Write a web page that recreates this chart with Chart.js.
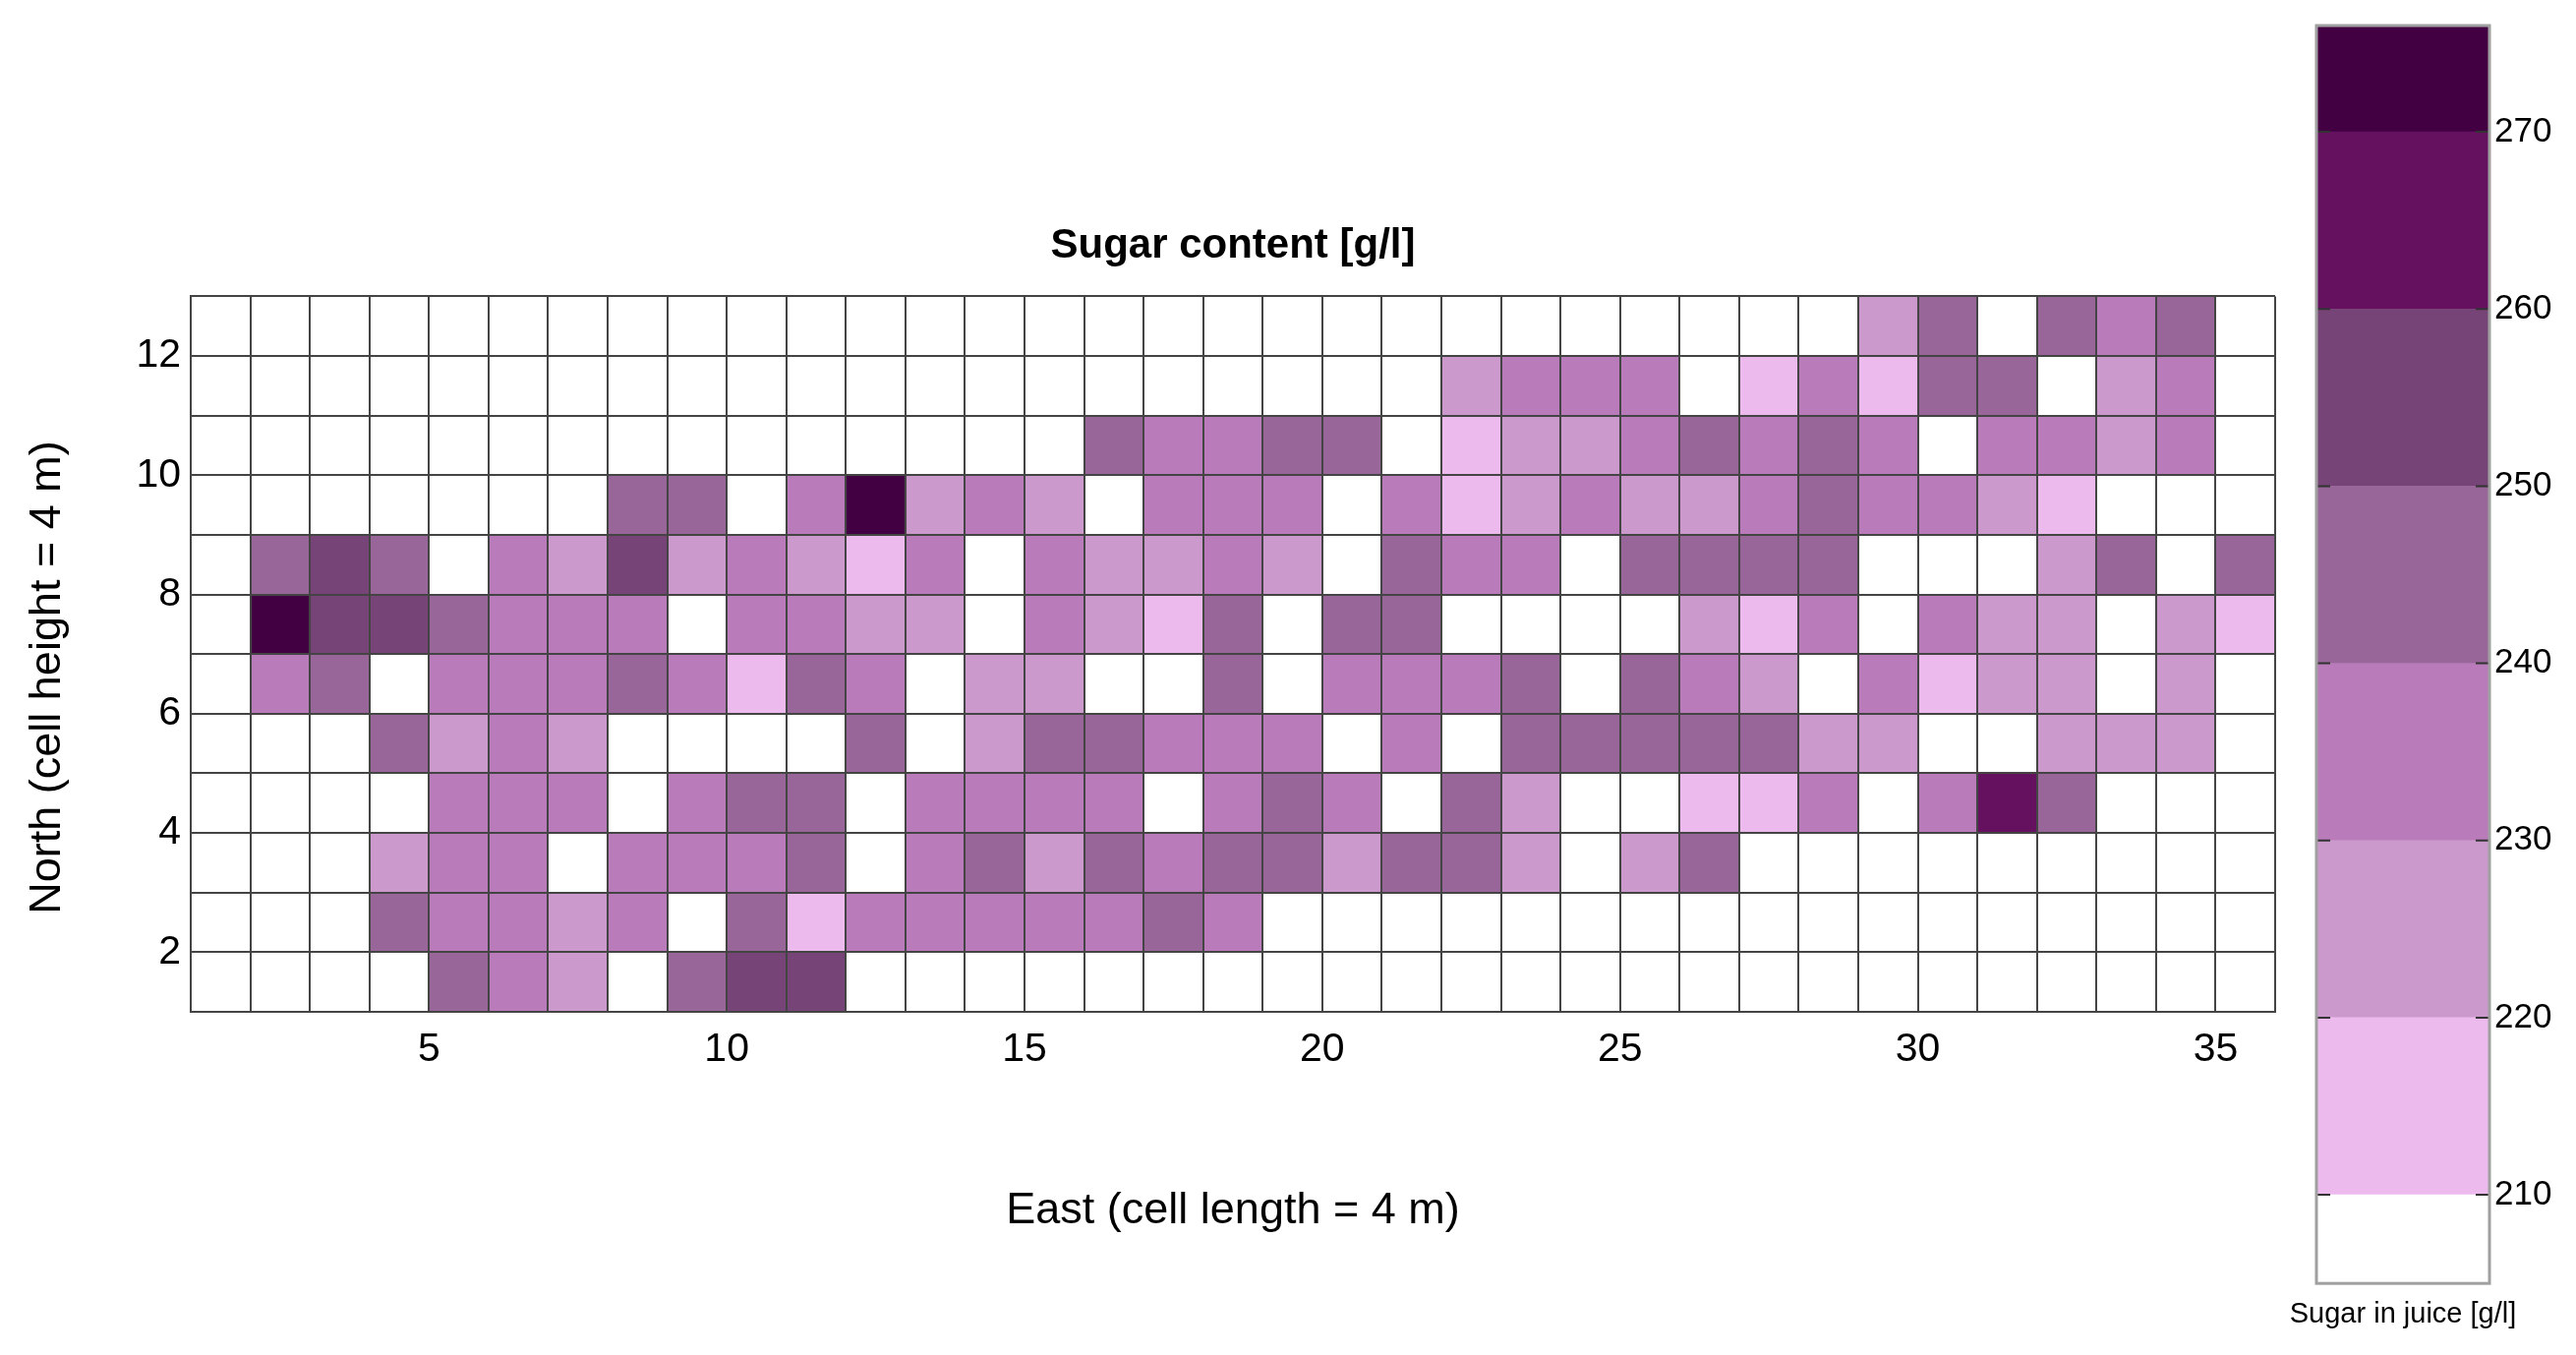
<!DOCTYPE html>
<html>
<head>
<meta charset="utf-8">
<script src="https://cdn.jsdelivr.net/npm/chart.js@4.4.1/dist/chart.umd.min.js"></script>
<style>
  body { margin: 0; background: #fff; }
  #map { position: absolute; left: 0; top: 0; }
  #bar { position: absolute; left: 2286px; top: 0; }
</style>
</head>
<body>
<canvas id="map" width="2620" height="1378"></canvas>
<canvas id="bar" width="316" height="1378"></canvas>
<script>
const _ = null;
// sugar in juice [g/l], one array per row (north), columns 1..35 (east)
const row12 = [_,_,_,_,_,_,_,_,_,_,_,_,_,_,_,_,_,_,_,_,_,_,_,_,_,_,_,_,225,245,_,245,235,245,_];
const row11 = [_,_,_,_,_,_,_,_,_,_,_,_,_,_,_,_,_,_,_,_,_,225,235,235,235,_,215,235,215,245,245,_,225,235,_];
const row10 = [_,_,_,_,_,_,_,_,_,_,_,_,_,_,_,245,235,235,245,245,_,215,225,225,235,245,235,245,235,_,235,235,225,235,_];
const row9  = [_,_,_,_,_,_,_,245,245,_,235,273,225,235,225,_,235,235,235,_,235,215,225,235,225,225,235,245,235,235,225,215,_,_,_];
const row8  = [_,245,255,245,_,235,225,255,225,235,225,215,235,_,235,225,225,235,225,_,245,235,235,_,245,245,245,245,_,_,_,225,245,_,245];
const row7  = [_,273,255,255,245,235,235,235,_,235,235,225,225,_,235,225,215,245,_,245,245,_,_,_,_,225,215,235,_,235,225,225,_,225,215];
const row6  = [_,235,245,_,235,235,235,245,235,215,245,235,_,225,225,_,_,245,_,235,235,235,245,_,245,235,225,_,235,215,225,225,_,225,_];
const row5  = [_,_,_,245,225,235,225,_,_,_,_,245,_,225,245,245,235,235,235,_,235,_,245,245,245,245,245,225,225,_,_,225,225,225,_];
const row4  = [_,_,_,_,235,235,235,_,235,245,245,_,235,235,235,235,_,235,245,235,_,245,225,_,_,215,215,235,_,235,263,245,_,_,_];
const row3  = [_,_,_,225,235,235,_,235,235,235,245,_,235,245,225,245,235,245,245,225,245,245,225,_,225,245,_,_,_,_,_,_,_,_,_];
const row2  = [_,_,_,245,235,235,225,235,_,245,215,235,235,235,235,235,245,235,_,_,_,_,_,_,_,_,_,_,_,_,_,_,_,_,_];
const row1  = [_,_,_,_,245,235,225,_,245,255,255,_,_,_,_,_,_,_,_,_,_,_,_,_,_,_,_,_,_,_,_,_,_,_,_];
const rows = [row1, row2, row3, row4, row5, row6, row7, row8, row9, row10, row11, row12];

// colour classes of the colour bar
const bandEdges = [205, 210, 220, 230, 240, 250, 260, 270, 276];
const bandColors = ['#ffffff', '#ecbaec', '#cc99cc', '#ba7bba', '#996699', '#774477', '#661160', '#420042'];
const colorbarTicks = [210, 220, 230, 240, 250, 260, 270];

const font = "'Liberation Sans', Arial, sans-serif";
const gridColor = '#444';

function colorFor(v) {
  for (let i = bandColors.length - 1; i >= 0; i--) {
    if (v >= bandEdges[i]) return bandColors[i];
  }
  return bandColors[0];
}

const cells = [];
rows.forEach((row, r) => {
  row.forEach((v, c) => {
    if (v !== null) cells.push({ x: c + 1.5, y: [r + 1, r + 2], v: v });
  });
});

new Chart(document.getElementById('map'), {
  type: 'bar',
  data: {
    datasets: [{
      data: cells,
      backgroundColor: ctx => colorFor(ctx.raw ? ctx.raw.v : 0),
      borderWidth: 0,
      barPercentage: 1,
      categoryPercentage: 1,
      grouped: false
    }]
  },
  options: {
    responsive: false,
    animation: false,
    layout: { padding: { left: 0, right: 306, top: 0, bottom: 0 } },
    plugins: {
      legend: { display: false },
      tooltip: { enabled: false },
      title: {
        display: true,
        fullSize: false,
        text: 'Sugar content [g/l]',
        color: '#000',
        font: { family: font, size: 42, weight: 'bold' },
        padding: { top: 225, bottom: 26 }
      },
      subtitle: {
        display: true,
        position: 'left',
        text: 'North (cell height = 4 m)',
        color: '#000',
        font: { family: font, size: 45 },
        padding: { top: 22, bottom: 0 }
      }
    },
    scales: {
      x: {
        type: 'linear',
        min: 1,
        max: 36,
        offset: false,
        afterFit: s => { s.height = 349; },
        ticks: {
          stepSize: 1,
          autoSkip: false,
          maxRotation: 0,
          padding: 14,
          color: '#000',
          font: { family: font, size: 41 },
          callback: v => (v % 5 === 0 ? v : '')
        },
        grid: { z: 1, color: gridColor, lineWidth: 2, drawTicks: false, offset: false },
        border: { z: 2, color: gridColor, width: 2 },
        title: {
          display: true,
          text: 'East (cell length = 4 m)',
          color: '#000',
          font: { family: font, size: 45 },
          padding: { top: 0, bottom: 119 }
        }
      },
      y: {
        type: 'linear',
        min: 1,
        max: 13,
        afterFit: s => { s.width = 194 - 76; },
        ticks: {
          stepSize: 1,
          autoSkip: false,
          padding: 10,
          color: '#000',
          font: { family: font, size: 41 },
          callback: v => (v % 2 === 0 ? v : '')
        },
        grid: { z: 1, color: gridColor, lineWidth: 2, drawTicks: false },
        border: { z: 2, color: gridColor, width: 2 }
      }
    }
  }
});

// frame and inward tick marks of the colour bar
const barFrame = {
  id: 'barFrame',
  afterDatasetsDraw(chart) {
    const { ctx, chartArea: a } = chart;
    const y = chart.scales.y;
    ctx.save();
    ctx.strokeStyle = '#333';
    ctx.lineWidth = 2;
    colorbarTicks.forEach(t => {
      const p = y.getPixelForValue(t);
      ctx.beginPath();
      ctx.moveTo(a.left, p); ctx.lineTo(a.left + 14, p);
      ctx.moveTo(a.right, p); ctx.lineTo(a.right - 14, p);
      ctx.stroke();
    });
    ctx.strokeStyle = '#a0a0a0';
    ctx.lineWidth = 3;
    ctx.strokeRect(a.left, a.top, a.right - a.left, a.bottom - a.top);
    ctx.restore();
  }
};

new Chart(document.getElementById('bar'), {
  type: 'bar',
  data: {
    labels: [''],
    datasets: bandColors.map((c, i) => ({
      data: [[bandEdges[i], bandEdges[i + 1]]],
      backgroundColor: c,
      borderWidth: 0,
      barPercentage: 1,
      categoryPercentage: 1,
      grouped: false
    }))
  },
  options: {
    responsive: false,
    animation: false,
    layout: { padding: { left: 0, right: 0, top: 26, bottom: 0 } },
    plugins: {
      legend: { display: false },
      tooltip: { enabled: false },
      title: {
        display: true,
        position: 'bottom',
        text: 'Sugar in juice [g/l]',
        color: '#000',
        font: { family: font, size: 29, weight: 'normal' },
        padding: { top: 14, bottom: 24 }
      }
    },
    scales: {
      x: { display: false },
      y: {
        position: 'right',
        min: 205,
        max: 276,
        afterBuildTicks: s => { s.ticks = colorbarTicks.map(v => ({ value: v })); },
        afterFit: s => { s.width = 70; },
        ticks: { padding: 5, color: '#000', font: { family: font, size: 35 } },
        grid: { display: false, drawTicks: false },
        border: { display: false }
      },
      yl: {
        position: 'left',
        afterFit: s => { s.width = 70; },
        ticks: { display: false },
        grid: { display: false, drawTicks: false },
        border: { display: false }
      }
    }
  },
  plugins: [barFrame]
});
</script>
</body>
</html>
